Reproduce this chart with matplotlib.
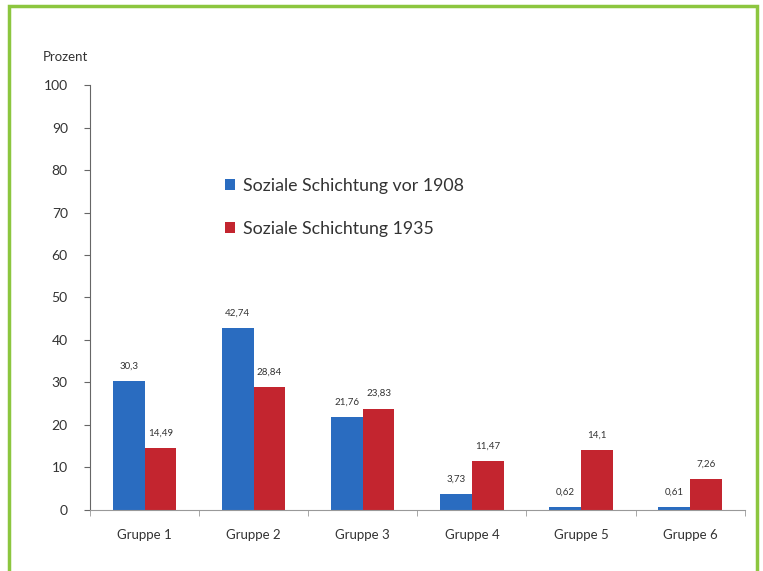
import numpy as np
import matplotlib.pyplot as plt
import matplotlib.patches as patches

plt.rcParams['font.family'] = ['Lato', 'DejaVu Sans']

# data
gruppen = ['Gruppe 1', 'Gruppe 2', 'Gruppe 3', 'Gruppe 4', 'Gruppe 5', 'Gruppe 6']
vor_1908 = [30.3, 42.74, 21.76, 3.73, 0.62, 0.61]
jahr_1935 = [14.49, 28.84, 23.83, 11.47, 14.1, 7.26]
label_vor = ['30,3', '42,74', '21,76', '3,73', '0,62', '0,61']
label_1935 = ['14,49', '28,84', '23,83', '11,47', '14,1', '7,26']
yticks = [0, 10, 20, 30, 40, 50, 60, 70, 80, 90, 100]

blau = '#2a6cc0'
rot = '#c3252f'

fig = plt.figure(figsize=(7.63, 5.71), dpi=100)
ax = fig.add_axes([0.118, 0.107, 0.858, 0.744])

# green frame around the chart
fig.patches.append(patches.Rectangle((9 / 763, -0.05), 748 / 763, 1 - 6 / 571 + 0.05,
                                     transform=fig.transFigure, fill=False,
                                     edgecolor='#8cc63f', linewidth=2.5))

x = np.arange(len(gruppen))
w = 0.29
b1 = ax.bar(x - w / 2, vor_1908, w, color=blau, label='Soziale Schichtung vor 1908')
b2 = ax.bar(x + w / 2, jahr_1935, w, color=rot, label='Soziale Schichtung 1935')

for rect, txt in zip(b1, label_vor):
    ax.text(rect.get_x() + rect.get_width() / 2, rect.get_height() + 3.6, txt,
            ha='center', va='center', fontsize=7, color='#333333')
for rect, txt in zip(b2, label_1935):
    ax.text(rect.get_x() + rect.get_width() / 2, rect.get_height() + 3.6, txt,
            ha='center', va='center', fontsize=7, color='#333333')

ax.set_xlim(-0.5, len(gruppen) - 0.5)
ax.set_ylim(0, 100)
ax.set_yticks(yticks)
ax.set_xticks(x)
ax.set_xticklabels(gruppen)
ax.set_xticks(np.arange(len(gruppen) + 1) - 0.5, minor=True)
ax.tick_params(axis='x', which='major', length=0, pad=14, labelsize=9.5, labelcolor='#333333')
ax.tick_params(axis='x', which='minor', length=4, color='#999999')
ax.tick_params(axis='y', length=4, labelsize=10, labelcolor='#333333', pad=12, color='#666666')

for s in ['top', 'right']:
    ax.spines[s].set_visible(False)
ax.spines['left'].set_color('#666666')
ax.spines['bottom'].set_color('#999999')

fig.text(65 / 763, 1 - 57 / 571, 'Prozent', ha='center', va='center', fontsize=9.5, color='#333333')

ax.legend(loc='upper left', bbox_to_anchor=(0.182, 0.82), frameon=False, fontsize=12.8,
          handlelength=0.55, handleheight=0.55, handletextpad=0.45, labelspacing=1.55,
          labelcolor='#333333')

fig.savefig('out.png', dpi=100)
